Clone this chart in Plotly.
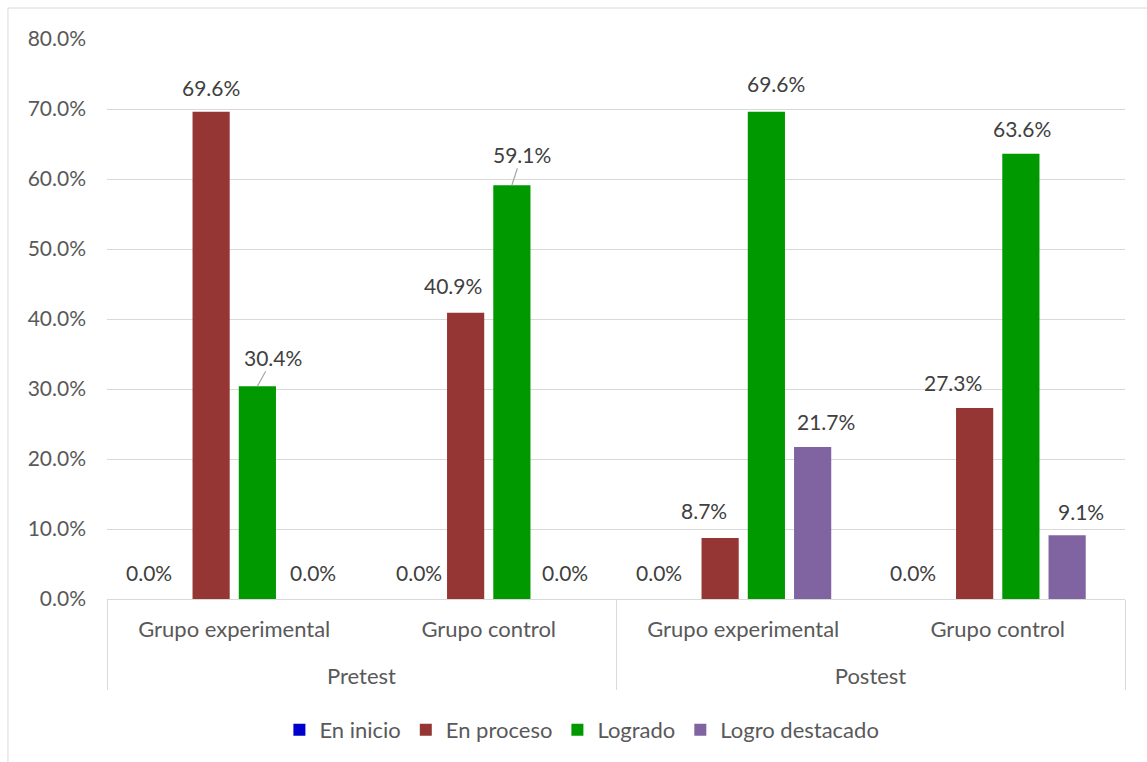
import plotly.graph_objects as go

# Two-level categories: test phase (outer) and group (inner)
phases = ["Pretest", "Pretest", "Postest", "Postest"]
groups = ["Grupo experimental", "Grupo control", "Grupo experimental", "Grupo control"]

# Percentage of students per achievement level
series_names = ["En inicio", "En proceso", "Logrado", "Logro destacado"]
en_inicio = [0.0, 0.0, 0.0, 0.0]
en_proceso = [69.6, 40.9, 8.7, 27.3]
logrado = [30.4, 59.1, 69.6, 63.6]
logro_destacado = [0.0, 0.0, 21.7, 9.1]

y_tick_values = [0, 10, 20, 30, 40, 50, 60, 70, 80]
y_tick_labels = [f"{v:.1f}%" for v in y_tick_values]

series_values = [en_inicio, en_proceso, logrado, logro_destacado]
series_colors = ["#0000CC", "#963634", "#009900", "#8064A2"]

# Pixel nudges for the data labels (x right, y up from the bar end)
label_dx = [[-16, 0, -15, -15], [0, -13, -16, -22], [16, 10, 10, 1], [9, 7, 13, 14]]
label_dy = [[27, 27, 27, 27], [24, 27, 28, 25], [29, 31, 28, 25], [27, 27, 26, 24]]
# labels pulled away from their bar, joined by a leader line
leader_lines = {(2, 0), (2, 1)}

FONT = "Lato"
FS = 21
AXIS_GRAY = "#595959"
LABEL_GRAY = "#404040"
LINE_GRAY = "#D9D9D9"

BARGAP = 0.273
BARGROUPGAP = 0.196

# outer level gets an empty first line so it sits lower under the group names
outer_level = ["<br>" + p for p in phases]

fig = go.Figure()
for name, vals, color in zip(series_names, series_values, series_colors):
    fig.add_trace(go.Bar(
        name=name,
        x=[outer_level, groups],
        y=vals,
        marker=dict(color=color, line=dict(width=0)),
        hovertemplate="%{y:.1f}%<extra>" + name + "</extra>",
    ))

# Data labels positioned on the bar slots of the grouped layout
n_series = len(series_names)
slot = (1 - BARGAP) / n_series
annotations = []
for si, vals in enumerate(series_values):
    for gi, v in enumerate(vals):
        xc = gi + (si - (n_series - 1) / 2) * slot
        dx = label_dx[si][gi]
        dy = label_dy[si][gi]
        txt = f"{v:.1f}%"
        if (si, gi) in leader_lines:
            annotations.append(dict(
                x=xc, y=v, xref="x", yref="y", text=txt,
                showarrow=True, arrowhead=0, arrowwidth=1.2, arrowcolor="#A6A6A6",
                ax=dx, ay=-dy, axref="pixel", ayref="pixel", standoff=0,
                font=dict(family=FONT, size=FS, color=LABEL_GRAY),
            ))
        else:
            annotations.append(dict(
                x=xc, y=v, xref="x", yref="y", text=txt, showarrow=False,
                xanchor="center", yanchor="middle", xshift=dx, yshift=dy,
                font=dict(family=FONT, size=FS, color=LABEL_GRAY),
            ))

# Chart frame
shapes = [dict(
    type="rect", xref="paper", yref="paper",
    x0=-0.0973, x1=1.06, y0=-0.40, y1=1.0553,
    line=dict(color=LINE_GRAY, width=1), fillcolor="rgba(0,0,0,0)", layer="below",
)]

fig.update_layout(
    width=1147, height=762, autosize=False,
    margin=dict(l=107, r=22, t=39, b=162, pad=0),
    paper_bgcolor="white", plot_bgcolor="white",
    font=dict(family=FONT, size=FS, color=AXIS_GRAY),
    barmode="group", bargap=BARGAP, bargroupgap=BARGROUPGAP,
    showlegend=True,
    legend=dict(
        orientation="h", x=0.4665, xanchor="center", y=-0.2317, yanchor="middle",
        font=dict(family=FONT, size=22, color=AXIS_GRAY),
        bgcolor="rgba(0,0,0,0)",
    ),
    annotations=annotations,
    shapes=shapes,
)

fig.update_xaxes(
    type="multicategory", range=[-0.5, 3.5],
    showdividers=True, dividercolor=LINE_GRAY, dividerwidth=1,
    showline=True, linecolor=LINE_GRAY, linewidth=1,
    showgrid=False, ticks="", zeroline=False, ticklabelstandoff=11,
    tickfont=dict(family=FONT, size=22, color=AXIS_GRAY),
)
fig.update_yaxes(
    range=[0, 80], tickvals=y_tick_values, ticktext=y_tick_labels,
    showgrid=True, gridcolor=LINE_GRAY, gridwidth=1,
    zeroline=False, showline=False, ticks="", ticklabelstandoff=20,
    tickfont=dict(family=FONT, size=FS, color=AXIS_GRAY),
)

fig.write_html("out.html")
